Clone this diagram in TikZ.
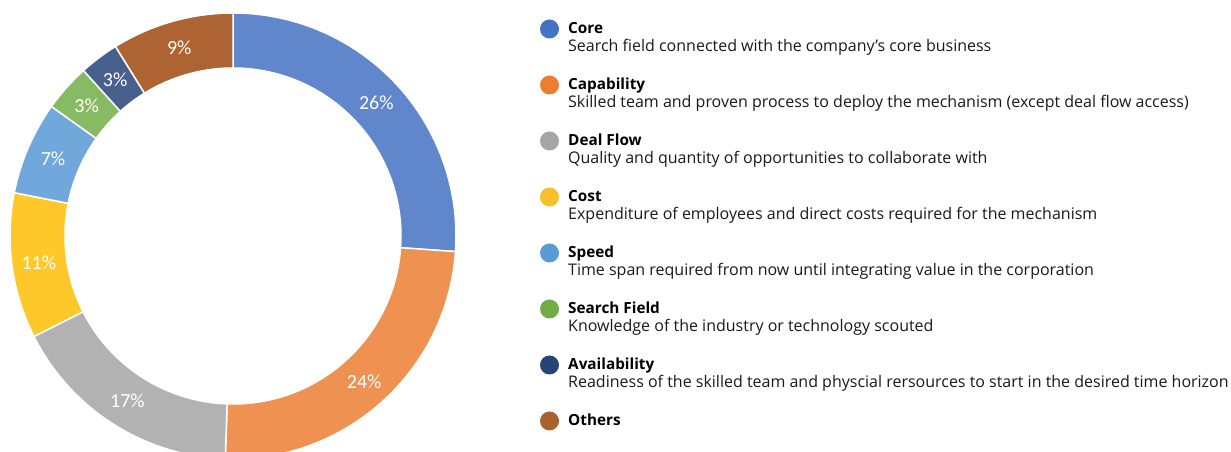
\documentclass[tikz,border=0pt]{standalone}
\usepackage{fontspec}
\setmainfont{Open Sans}
\newfontfamily\pctfont{Carlito}
\usetikzlibrary{calc}

% ring colours
\definecolor{ringcore}{HTML}{6086CC}
\definecolor{ringcap}{HTML}{EF9151}
\definecolor{ringdeal}{HTML}{B2B2B2}
\definecolor{ringcost}{HTML}{FFC82A}
\definecolor{ringspeed}{HTML}{70A8DC}
\definecolor{ringsearch}{HTML}{87BB63}
\definecolor{ringavail}{HTML}{47608D}
\definecolor{ringother}{HTML}{AD6432}
% legend colours
\definecolor{keycore}{HTML}{4472C4}
\definecolor{keycap}{HTML}{ED7D31}
\definecolor{keydeal}{HTML}{A5A5A5}
\definecolor{keycost}{HTML}{F6C02A}
\definecolor{keyspeed}{HTML}{5B9BD5}
\definecolor{keysearch}{HTML}{70AD47}
\definecolor{keyavail}{HTML}{264478}
\definecolor{keyother}{HTML}{A8622E}

\begin{document}
\begin{tikzpicture}[x=1pt,y=1pt,
  seg/.style={draw=white,line width=1.5pt},
  pct/.style={text=white,inner sep=0pt,font=\pctfont\fontsize{20}{24}\selectfont},
  key dot/.style={circle,inner sep=0pt,minimum size=19pt},
  key title/.style={anchor=base west,inner sep=0pt,font=\fontsize{15.3}{18}\selectfont\bfseries},
  key text/.style={anchor=base west,inner sep=0pt,text=black!90,font=\fontsize{16}{19}\selectfont}]

  \useasboundingbox (0,0) rectangle (1231,452);
  \coordinate (c) at (233,216);

  % donut ring
  \foreach \a/\b/\col/\val [count=\i] in {90/-4/ringcore/26, -4/-92/ringcap/24,
      -92/-153.2/ringdeal/17, -153.2/-191.2/ringcost/11, -191.2/-215.5/ringspeed/7,
      -215.5/-227.9/ringsearch/3, -227.9/-238.2/ringavail/3, -238.2/-270/ringother/9}{
    \pgfmathsetmacro\m{(\a+\b)/2}
    \fill[\col,seg] ($(c)+(\a:223)$) arc[start angle=\a,end angle=\b,radius=223]
      -- ($(c)+(\b:168)$) arc[start angle=\b,end angle=\a,radius=168] -- cycle;
    \node[pct] (pct\i) at ($(c)+(\m:196)$) {\val\%};
  }

  % legend
  \foreach \ttl/\descr/\col [count=\i] in {
      Core/{Search field connected with the company’s core business}/keycore,
      Capability/{Skilled team and proven process to deploy the mechanism (except deal flow access)}/keycap,
      Deal Flow/{Quality and quantity of opportunities to collaborate with}/keydeal,
      Cost/{Expenditure of employees and direct costs required for the mechanism}/keycost,
      Speed/{Time span required from now until integrating value in the corporation}/keyspeed,
      Search Field/{Knowledge of the industry or technology scouted}/keysearch,
      Availability/{Readiness of the skilled team and physcial rersources to start in the desired time horizon}/keyavail,
      Others/{}/keyother}{
    \node[key dot,fill=\col] (dot\i) at (549.5,479-56*\i) {};
    \node[key title] (title\i) at (568,474-56*\i) {\ttl};
    \node[key text] (text\i) at (568,456.3-56*\i) {\descr};
  }
\end{tikzpicture}
\end{document}
